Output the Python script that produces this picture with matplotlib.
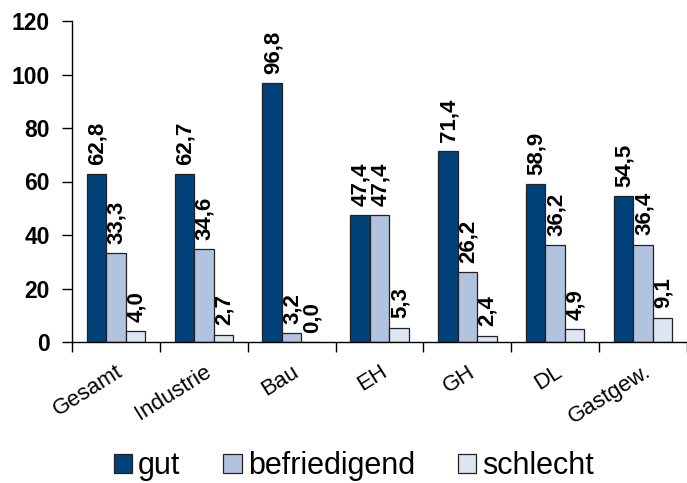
import matplotlib.pyplot as plt
import numpy as np

plt.rcParams['font.family'] = ['Liberation Sans', 'DejaVu Sans']

categories = ['Gesamt', 'Industrie', 'Bau', 'EH', 'GH', 'DL', 'Gastgew.']
gut = [62.8, 62.7, 96.8, 47.4, 71.4, 58.9, 54.5]
befriedigend = [33.3, 34.6, 3.2, 47.4, 26.2, 36.2, 36.4]
schlecht = [4.0, 2.7, 0.0, 5.3, 2.4, 4.9, 9.1]

series = [('gut', gut, '#00417a'),
          ('befriedigend', befriedigend, '#b1c3de'),
          ('schlecht', schlecht, '#dde5f0')]

fig = plt.figure(figsize=(6.87, 4.83), dpi=100)
ax = fig.add_axes([72 / 687, 1 - 342 / 483, 615 / 687, 321 / 483])

x = np.arange(len(categories))
w = 0.222
for i, (name, vals, col) in enumerate(series):
    pos = x + (i - 1) * w
    bars = ax.bar(pos, vals, width=w, color=col, edgecolor='#222222',
                  linewidth=0.9, label=name)
    for b, v in zip(bars, vals):
        ax.text(b.get_x() + b.get_width() / 2 + 0.01, v + 3.5,
                f'{v:.1f}'.replace('.', ','), rotation=90,
                ha='center', va='bottom', fontsize=16, fontweight='bold')

ax.set_xlim(-0.5, -0.5 + 615 / 88.7)
ax.set_ylim(0, 120)
ax.set_yticks(range(0, 121, 20))
ax.tick_params(axis='y', labelsize=16.5, length=7, width=1, direction='out', pad=9)
for t in ax.get_yticklabels():
    t.set_fontweight('bold')

# category labels centered, tick marks between groups
ax.set_xticks(x)
ax.set_xticklabels(categories, rotation=32, ha='right', rotation_mode='anchor',
                   fontsize=16)
ax.tick_params(axis='x', which='major', length=0, pad=14)
ax.set_xticks(np.arange(-0.5, len(categories), 1), minor=True)
ax.tick_params(axis='x', which='minor', length=7, width=1, direction='out')

for side in ['top', 'right']:
    ax.spines[side].set_visible(False)
ax.spines['left'].set_linewidth(1)
ax.spines['bottom'].set_linewidth(1)

fig.legend(loc='center', bbox_to_anchor=(0.515, 1 - 466 / 483),
           ncol=3, frameon=False, fontsize=22, handlelength=0.6,
           handleheight=0.6, handletextpad=0.2, columnspacing=1.4)

fig.savefig('out.png', dpi=100)
